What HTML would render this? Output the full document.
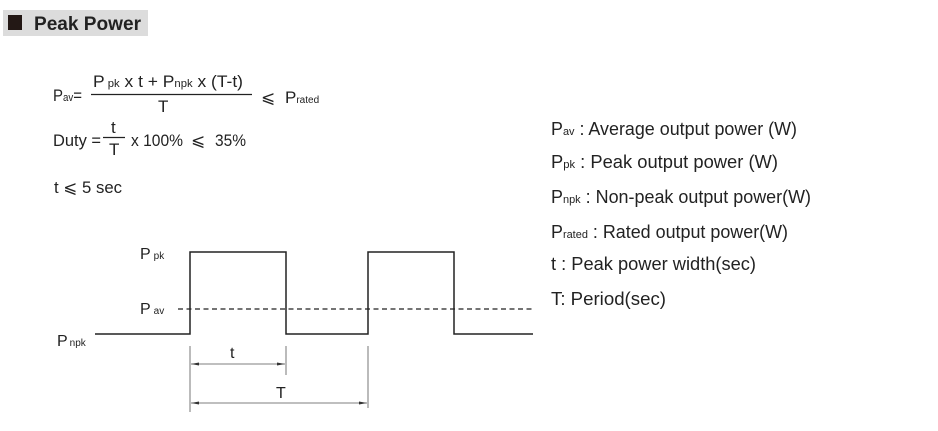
<!DOCTYPE html>
<html><head><meta charset="utf-8"><style>
html,body{margin:0;padding:0;background:#fff;width:938px;height:431px;overflow:hidden}
svg{display:block}
text{font-family:"Liberation Sans",sans-serif;fill:#222}
</style></head><body>
<svg width="938" height="431" viewBox="0 0 938 431" xmlns="http://www.w3.org/2000/svg">
<rect x="3" y="10" width="145" height="26" fill="#dcdcdc"/>
<rect x="8" y="15" width="14" height="15" fill="#231815"/>
<text x="34" y="30" font-size="19" font-weight="bold" textLength="107" lengthAdjust="spacingAndGlyphs">Peak Power</text>

<!-- formula -->
<g font-size="17">
<text x="53" y="101" textLength="29" lengthAdjust="spacingAndGlyphs">P<tspan font-size="11">av</tspan>=</text>
<text x="93" y="87" textLength="150" lengthAdjust="spacingAndGlyphs">P<tspan font-size="11"> pk</tspan>  x  t + P<tspan font-size="11">npk</tspan>  x   (T-t)</text>
<line x1="91" y1="94.5" x2="252" y2="94.5" stroke="#222" stroke-width="1.2"/>
<text x="158" y="112">T</text>
<text x="261" y="103">⩽</text>
<text x="285" y="103">P<tspan font-size="10">rated</tspan></text>

<text x="53" y="146" textLength="48" lengthAdjust="spacingAndGlyphs">Duty =</text>
<text x="111" y="133">t</text>
<line x1="103" y1="137.5" x2="125" y2="137.5" stroke="#222" stroke-width="1.2"/>
<text x="109" y="155">T</text>
<text x="131" y="146" textLength="52" lengthAdjust="spacingAndGlyphs">x 100%</text>
<text x="191" y="146">⩽</text>
<text x="215" y="146" textLength="31" lengthAdjust="spacingAndGlyphs">35%</text>
<text x="54" y="193" textLength="68" lengthAdjust="spacingAndGlyphs">t ⩽ 5 sec</text>
</g>

<!-- legend -->
<g font-size="18">
<text x="551" y="135" textLength="246" lengthAdjust="spacingAndGlyphs">P<tspan font-size="11">av</tspan> : Average output power  (W)</text>
<text x="551" y="168" textLength="227" lengthAdjust="spacingAndGlyphs">P<tspan font-size="11">pk</tspan> : Peak output power   (W)</text>
<text x="551" y="203" textLength="260" lengthAdjust="spacingAndGlyphs">P<tspan font-size="11">npk</tspan> : Non-peak output power(W)</text>
<text x="551" y="238" textLength="237" lengthAdjust="spacingAndGlyphs">P<tspan font-size="11">rated</tspan> : Rated output power(W)</text>
<text x="551" y="270" textLength="205" lengthAdjust="spacingAndGlyphs">t  : Peak power width(sec)</text>
<text x="551" y="305" textLength="115" lengthAdjust="spacingAndGlyphs">T: Period(sec)</text>
</g>

<!-- waveform -->
<g font-size="16">
<text x="140" y="259">P<tspan font-size="10" dx="3">pk</tspan></text>
<text x="140" y="314">P<tspan font-size="10" dx="3">av</tspan></text>
<text x="57" y="346">P<tspan font-size="10" dx="2">npk</tspan></text>
<text x="230" y="358">t</text>
<text x="276" y="398">T</text>
</g>
<polyline points="95,334 190,334 190,252 286,252 286,334 368,334 368,252 454,252 454,334 533,334" fill="none" stroke="#222" stroke-width="1.5"/>
<line x1="178" y1="309" x2="533" y2="309" stroke="#222" stroke-width="1.2" stroke-dasharray="5,3.5"/>
<g stroke="#555" stroke-width="0.8">
<line x1="190" y1="346" x2="190" y2="412"/>
<line x1="286" y1="346" x2="286" y2="375"/>
<line x1="368" y1="346" x2="368" y2="408"/>
<line x1="191" y1="364" x2="285" y2="364"/>
<line x1="191" y1="403" x2="367" y2="403"/>
</g>
<g fill="#333">
<polygon points="191,364 199,362.5 199,365.5"/>
<polygon points="285,364 277,362.5 277,365.5"/>
<polygon points="191,403 199,401.5 199,404.5"/>
<polygon points="367,403 359,401.5 359,404.5"/>
</g>
</svg>
</body></html>
